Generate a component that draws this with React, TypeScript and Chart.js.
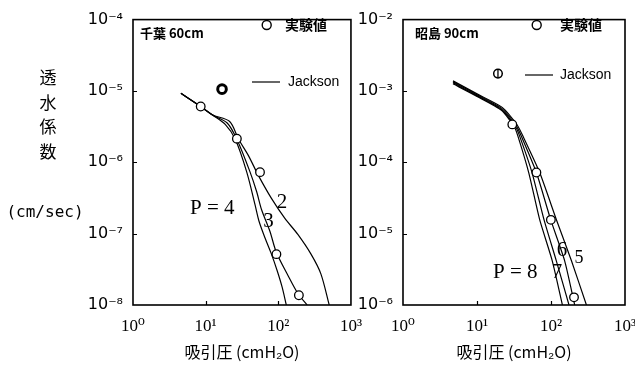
import React, { useEffect, useRef } from "react";
import { Chart, registerables } from "chart.js";
Chart.register(...registerables);

// Shared axis ticks
const X_TICKS = [1, 10, 100, 1000];
const LEFT_Y_TICKS = [1e-8, 1e-7, 1e-6, 1e-5, 1e-4];
const RIGHT_Y_TICKS = [1e-6, 1e-5, 1e-4, 1e-3, 1e-2];

// 千葉 60cm — Jackson curves (suction cmH2O, conductivity cm/sec)
const chibaP4X = [4.57, 8.55, 12.3, 18.6, 25.6, 36.8, 47.9, 54.3, 65.5, 80.5, 96.3, 112.7, 128.9];
const chibaP4Y = [9.25e-6, 6.05e-6, 4.64e-6, 3.4e-6, 2.1e-6, 7.28e-7, 2.53e-7, 1.49e-7, 8.75e-8, 5.16e-8, 3.04e-8, 1.79e-8, 1e-8];
const chibaP3X = [4.57, 8.55, 12.3, 19.8, 26.9, 40.9, 50.4, 58.9, 76.6, 94.2, 135.9, 185.8, 249];
const chibaP3Y = [9.25e-6, 6.05e-6, 4.64e-6, 3.56e-6, 2.1e-6, 7.28e-7, 3.86e-7, 2.16e-7, 1.08e-7, 5.43e-8, 2.59e-8, 1.45e-8, 1e-8];
const chibaP2X = [4.57, 8.55, 12.3, 21.4, 28.4, 38.8, 53.1, 80.5, 122.5, 185.8, 282, 385.6, 502];
const chibaP2Y = [9.25e-6, 6.05e-6, 4.64e-6, 3.73e-6, 2.1e-6, 1.24e-6, 6.56e-7, 3.12e-7, 1.65e-7, 9.75e-8, 5.16e-8, 2.73e-8, 1e-8];
// 千葉 60cm — 実験値
const chibaExpX = [8.55, 26.9, 56.0, 94.2, 192];
const chibaExpY = [6.05e-6, 2.14e-6, 7.28e-7, 5.16e-8, 1.37e-8];
const chibaSatX = [16.8];
const chibaSatY = [1.06e-5];

// 昭島 90cm — Jackson curves
const akiP8X = [4.74, 10, 21.4, 31.8, 35.8, 50.0, 70.3, 104, 142.6];
const akiP8Y = [1.26e-3, 8.4e-4, 5.36e-4, 3.18e-4, 2.31e-4, 7.18e-5, 1.57e-5, 4.16e-6, 1e-6];
const akiP7X = [4.74, 10, 21.4, 32.8, 37.8, 55.4, 80.4, 118, 175];
const akiP7Y = [1.3e-3, 8.6e-4, 5.52e-4, 3.23e-4, 2.31e-4, 7.18e-5, 1.57e-5, 4.16e-6, 1e-6];
const akiP6X = [4.74, 10, 21.6, 33.9, 39.8, 63.5, 99, 153, 209];
const akiP6Y = [1.34e-3, 8.85e-4, 5.7e-4, 3.27e-4, 2.31e-4, 7.18e-5, 1.57e-5, 4.16e-6, 1e-6];
const akiP5X = [4.74, 10, 21.9, 34.9, 41.9, 70.3, 118.3, 189, 301];
const akiP5Y = [1.385e-3, 9.1e-4, 5.89e-4, 3.33e-4, 2.31e-4, 7.18e-5, 1.57e-5, 4.16e-6, 1e-6];
// 昭島 90cm — 実験値
const akiExpX = [30, 63.5, 99.6, 204.6];
const akiExpY = [3.4e-4, 7.2e-5, 1.56e-5, 1.28e-6];
const akiSatX = [19.2];
const akiSatY = [1.75e-3];

const X_TITLE = "吸引圧 (cmH₂O)";
const Y_TITLE_CHARS = ["透", "水", "係", "数"];
const Y_UNIT = "(cm/sec)";

const SUP: Record<string, string> = {
  "-": "⁻", "0": "⁰", "1": "¹", "2": "²", "3": "³", "4": "⁴",
  "5": "⁵", "6": "⁶", "7": "⁷", "8": "⁸", "9": "⁹",
};
function pow10Label(v: number) {
  const e = Math.round(Math.log10(v));
  return "10" + String(e).split("").map((c) => SUP[c] || c).join("");
}

function pts(xs: number[], ys: number[]) {
  return xs.map((x, i) => ({ x, y: ys[i] }));
}

function curve(xs: number[], ys: number[], tension: number) {
  return {
    data: pts(xs, ys),
    showLine: true,
    borderColor: "#000",
    borderWidth: 1.2,
    pointRadius: 0,
    tension,
    fill: false,
  };
}
function marks(xs: number[], ys: number[], bw = 1.3, style: string = "circle", radius = 4.3) {
  return {
    data: pts(xs, ys),
    showLine: false,
    pointStyle: style,
    pointRadius: radius,
    pointBackgroundColor: "#fff",
    pointBorderColor: "#000",
    pointBorderWidth: bw,
  };
}

type TextItem = { t: string; x: number; y: number; font: string; align?: CanvasTextAlign };
type Spec = {
  offset: number;
  texts: TextItem[];
  legendCircle: [number, number];
  legendLine: [number, number, number];
};

const SANS = "'DejaVu Sans', sans-serif";
const SERIF = "'Liberation Serif', 'DejaVu Serif', serif";
const CJK = "'Noto Sans CJK JP', sans-serif";

function decorPlugin(spec: Spec) {
  return {
    id: "decor",
    afterDraw(chart: any) {
      const { ctx, chartArea: a } = chart;
      const xs = chart.scales.x;
      const ys = chart.scales.y;
      ctx.save();
      ctx.strokeStyle = "#000";
      ctx.lineWidth = 1.6;
      ctx.strokeRect(a.left, a.top, a.right - a.left, a.bottom - a.top);
      ctx.lineWidth = 1.2;
      ctx.beginPath();
      X_TICKS.slice(1, -1).forEach((v) => {
        const px = Math.round(xs.getPixelForValue(v)) + 0.5;
        ctx.moveTo(px, a.bottom);
        ctx.lineTo(px, a.bottom - 4);
      });
      ys.ticks.slice(1, -1).forEach((tk: any) => {
        const py = Math.round(ys.getPixelForValue(tk.value)) + 0.5;
        ctx.moveTo(a.left, py);
        ctx.lineTo(a.left + 4, py);
      });
      ctx.stroke();
      // legend symbols
      const o = spec.offset;
      ctx.lineWidth = 1.4;
      ctx.beginPath();
      ctx.arc(spec.legendCircle[0] - o, spec.legendCircle[1], 4.5, 0, Math.PI * 2);
      ctx.stroke();
      ctx.lineWidth = 1.2;
      ctx.beginPath();
      ctx.moveTo(spec.legendLine[0] - o, spec.legendLine[2]);
      ctx.lineTo(spec.legendLine[1] - o, spec.legendLine[2]);
      ctx.stroke();
      ctx.fillStyle = "#000";
      ctx.textBaseline = "middle";
      spec.texts.forEach((tx) => {
        ctx.font = tx.font;
        ctx.textAlign = tx.align || "left";
        ctx.fillText(tx.t, tx.x - o, tx.y);
      });
      ctx.restore();
    },
  };
}

function buildConfig(opts: {
  datasets: any[];
  yTicks: number[];
  yWidth: number;
  padRight: number;
  padTop: number;
  spec: Spec;
}) {
  return {
    type: "scatter" as const,
    data: { datasets: opts.datasets },
    plugins: [decorPlugin(opts.spec)],
    options: {
      animation: false as const,
      responsive: false,
      devicePixelRatio: 1,
      layout: { padding: { left: 0, right: opts.padRight, top: opts.padTop, bottom: 0 } },
      plugins: { legend: { display: false }, tooltip: { enabled: false } },
      scales: {
        x: {
          type: "logarithmic" as const,
          min: 1,
          max: 1000,
          afterBuildTicks: (s: any) => {
            s.ticks = X_TICKS.map((v) => ({ value: v }));
          },
          afterFit: (s: any) => {
            s.height = 60;
          },
          grid: { display: false, drawTicks: false },
          border: { display: false },
          ticks: {
            autoSkip: false,
            maxRotation: 0,
            padding: 11,
            color: "#000",
            font: { family: SERIF, size: 17 },
            callback: (v: any) => pow10Label(Number(v)),
          },
          title: {
            display: true,
            text: X_TITLE,
            color: "#000",
            font: { family: CJK, size: 16 },
            padding: { top: 0, bottom: 3 },
          },
        },
        y: {
          type: "logarithmic" as const,
          min: opts.yTicks[0],
          max: opts.yTicks[opts.yTicks.length - 1],
          afterBuildTicks: (s: any) => {
            s.ticks = opts.yTicks.map((v) => ({ value: v }));
          },
          afterFit: (s: any) => {
            s.width = opts.yWidth;
          },
          grid: { display: false, drawTicks: false },
          border: { display: false },
          ticks: {
            autoSkip: false,
            padding: 10,
            color: "#000",
            font: { family: SANS, size: 16 },
            callback: (v: any) => pow10Label(Number(v)),
          },
        },
      },
    },
  };
}

export default function App() {
  const leftRef = useRef<HTMLCanvasElement>(null);
  const rightRef = useRef<HTMLCanvasElement>(null);

  useEffect(() => {
    const leftSpec: Spec = {
      offset: 0,
      legendCircle: [266.7, 25],
      legendLine: [252, 280, 82],
      texts: [
        ...Y_TITLE_CHARS.map((c, i) => ({ t: c, x: 48, y: 78 + i * 24.5, font: `17px ${CJK}`, align: "center" as CanvasTextAlign })),
        { t: Y_UNIT, x: 45, y: 213, font: `16px 'DejaVu Sans Mono', monospace`, align: "center" },
        { t: "千葉 60cm", x: 140, y: 33, font: `bold 13px ${CJK}` },
        { t: "実験値", x: 285, y: 25, font: `bold 14px ${CJK}` },
        { t: "Jackson", x: 288, y: 82, font: `14px 'Liberation Sans', sans-serif` },
        { t: "P = 4", x: 190, y: 208, font: `21px ${SERIF}` },
        { t: "2", x: 282, y: 202, font: `21px ${SERIF}`, align: "center" },
        { t: "3", x: 268.5, y: 221, font: `21px ${SERIF}`, align: "center" },
      ],
    };
    const rightSpec: Spec = {
      offset: 355,
      legendCircle: [536.7, 25],
      legendLine: [525, 553, 75],
      texts: [
        { t: "昭島 90cm", x: 415, y: 33, font: `bold 13px ${CJK}` },
        { t: "実験値", x: 560, y: 25, font: `bold 14px ${CJK}` },
        { t: "Jackson", x: 560, y: 75, font: `14px 'Liberation Sans', sans-serif` },
        { t: "P = 8", x: 493, y: 272, font: `21px ${SERIF}` },
        { t: "7", x: 557, y: 272, font: `21px ${SERIF}`, align: "center" },
        { t: "6", x: 562, y: 250, font: `21px ${SERIF}`, align: "center" },
        { t: "5", x: 579, y: 258, font: `18px ${SERIF}`, align: "center" },
      ],
    };

    const c1 = new Chart(
      leftRef.current!,
      buildConfig({
        datasets: [
          marks(chibaSatX, chibaSatY, 3),
          marks(chibaExpX, chibaExpY),
          curve(chibaP4X, chibaP4Y, 0.3),
          curve(chibaP3X, chibaP3Y, 0.3),
          curve(chibaP2X, chibaP2Y, 0.3),
        ],
        yTicks: LEFT_Y_TICKS,
        yWidth: 133,
        padRight: 20,
        padTop: 15,
        spec: leftSpec,
      }) as any
    );
    const c2 = new Chart(
      rightRef.current!,
      buildConfig({
        datasets: [
          marks(akiSatX, akiSatY, 1.3, "line", 4.3),
          marks(akiSatX, akiSatY, 1.5),
          marks(akiExpX, akiExpY),
          curve(akiP8X, akiP8Y, 0.2),
          curve(akiP7X, akiP7Y, 0.2),
          curve(akiP6X, akiP6Y, 0.2),
          curve(akiP5X, akiP5Y, 0.2),
        ].map((d: any, i: number) => (i === 0 ? { ...d, pointRotation: 90 } : d)),
        yTicks: RIGHT_Y_TICKS,
        yWidth: 48,
        padRight: 25,
        padTop: 14,
        spec: rightSpec,
      }) as any
    );
    return () => {
      c1.destroy();
      c2.destroy();
    };
  }, []);

  return (
    <div style={{ position: "absolute", left: 0, top: 0, width: 635, height: 365, overflow: "hidden", background: "#fff" }}>
      <canvas ref={leftRef} width={373} height={365} style={{ position: "absolute", left: 0, top: 0, display: "block" }} />
      <canvas ref={rightRef} width={295} height={365} style={{ position: "absolute", left: 355, top: 0, display: "block" }} />
    </div>
  );
}
